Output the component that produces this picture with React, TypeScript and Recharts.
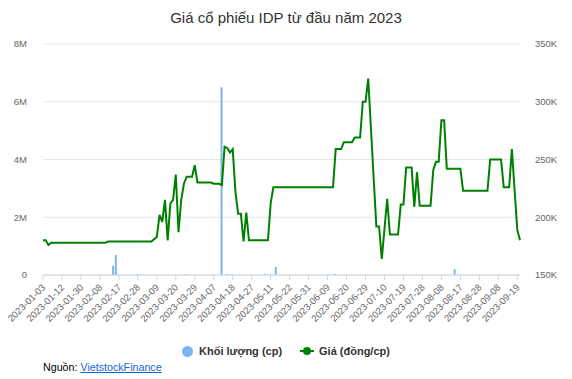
import React from "react";
import { Bar, CartesianGrid, ComposedChart, Line, XAxis, YAxis } from "recharts";

const FONT = '"Liberation Sans", Arial, Helvetica, sans-serif';

// one label every 7 trading days
const tickLabels = [
  "2023-01-03", "2023-01-12", "2023-01-30", "2023-02-08", "2023-02-17", "2023-02-28",
  "2023-03-09", "2023-03-20", "2023-03-29", "2023-04-07", "2023-04-18", "2023-04-27",
  "2023-05-11", "2023-05-22", "2023-05-31", "2023-06-09", "2023-06-20", "2023-06-29",
  "2023-07-10", "2023-07-19", "2023-07-28", "2023-08-08", "2023-08-17", "2023-08-28",
  "2023-09-08", "2023-09-19",
];
const TICK_STEP = 7;

// closing price per trading day, thousand đồng
const priceK = [
  180, 180, 176, 178, 178, 178, 178, 178, 178, 178,
  178, 178, 178, 178, 178, 178, 178, 178, 178, 178,
  178, 178, 178, 178, 179, 179, 179, 179, 179, 179,
  179, 179, 179, 179, 179, 179, 179, 179, 179, 179,
  179, 181, 183, 202, 196, 215, 180, 212, 215, 237,
  187, 215, 229, 235, 235, 235, 245, 230, 230, 230,
  230, 230, 230, 229, 229, 229, 228, 261, 260, 256,
  259, 222, 203, 203, 179, 204, 180, 180, 180, 180,
  180, 180, 180, 180, 212, 226, 226, 226, 226, 226,
  226, 226, 226, 226, 226, 226, 226, 226, 226, 226,
  226, 226, 226, 226, 226, 226, 226, 226, 259, 259,
  259, 265, 265, 265, 265, 269, 269, 269, 300, 300,
  320, 277, 234, 192, 192, 164, 190, 216, 185, 185,
  185, 185, 211, 211, 243, 243, 243, 209, 239, 210,
  210, 210, 210, 210, 241, 248, 248, 284, 284, 242,
  242, 242, 242, 242, 242, 223, 223, 223, 223, 223,
  223, 223, 223, 223, 223, 250, 250, 250, 250, 250,
  226, 226, 226, 259, 224, 189, 180,
];

// days with visible traded volume, millions of shares
const volumeDay = [26, 27, 35, 53, 66, 68, 82, 86, 108, 152];
const volumeM = [0.32, 0.69, 0.03, 0.03, 6.5, 0.03, 0.04, 0.28, 0.04, 0.2];

const volTicks = [0, 2, 4, 6, 8];
const priceTicks = [150, 200, 250, 300, 350];

const rows = priceK.map((p, i) => {
  const k = volumeDay.indexOf(i);
  return { i, price: p, volume: k >= 0 ? volumeM[k] : 0 };
});

const dateTicks = tickLabels.map((_, k) => k * TICK_STEP);

function DateTick({ x, y, payload }: any) {
  const label = tickLabels[Math.round(payload.value / TICK_STEP)] ?? "";
  const ax = x + 3;
  const ay = y + 6;
  return (
    <text
      x={ax}
      y={ay}
      transform={`rotate(-45, ${ax}, ${ay})`}
      textAnchor="end"
      fill="#666666"
      fontSize={9.5}
      fontFamily={FONT}
    >
      {label}
    </text>
  );
}

export default function App() {
  const last = priceK.length - 1;

  return (
    <div style={{ position: "absolute", left: 0, top: 0, width: 572, height: 379, background: "#fff", fontFamily: FONT }}>
      <div
        style={{
          position: "absolute",
          top: 8,
          left: 0,
          width: 572,
          textAlign: "center",
          fontSize: 15,
          lineHeight: "19px",
          color: "#333333",
        }}
      >
        Giá cổ phiếu IDP từ đầu năm 2023
      </div>

      <ComposedChart width={572} height={379} data={rows} margin={{ top: 44, right: 0, bottom: 44, left: 0 }}>
        <CartesianGrid yAxisId="vol" vertical={false} stroke="#e6e6e6" />
        <XAxis
          type="number"
          dataKey="i"
          domain={[0, last]}
          ticks={dateTicks}
          interval={0}
          height={60}
          tick={<DateTick />}
          tickSize={5}
          axisLine={{ stroke: "#ccd6eb" }}
          tickLine={{ stroke: "#ccd6eb" }}
        />
        <YAxis
          yAxisId="vol"
          orientation="left"
          width={43}
          domain={[0, 8]}
          ticks={volTicks}
          tickFormatter={(v) => (v === 0 ? "0" : `${v}M`)}
          axisLine={false}
          tickLine={false}
          tickSize={0}
          tickMargin={16}
          tick={{ fill: "#666666", fontSize: 9.5, fontFamily: FONT }}
        />
        <YAxis
          yAxisId="price"
          orientation="right"
          width={52}
          domain={[150, 350]}
          ticks={priceTicks}
          tickFormatter={(v) => `${v}K`}
          axisLine={false}
          tickLine={false}
          tickSize={0}
          tickMargin={15}
          tick={{ fill: "#666666", fontSize: 9.5, fontFamily: FONT, textAnchor: "start" }}
        />
        <Bar yAxisId="vol" dataKey="volume" fill="#7cb5ec" barSize={2} isAnimationActive={false} />
        <Line
          yAxisId="price"
          type="linear"
          dataKey="price"
          stroke="#008000"
          strokeWidth={2}
          dot={false}
          isAnimationActive={false}
        />
      </ComposedChart>

      <div
        style={{
          position: "absolute",
          top: 343,
          left: 0,
          width: 572,
          display: "flex",
          justifyContent: "center",
          alignItems: "center",
          fontSize: 11,
          fontWeight: "bold",
          color: "#333333",
          lineHeight: "16px",
        }}
      >
        <span style={{ display: "inline-block", width: 11, height: 11, borderRadius: "50%", background: "#7cb5ec", marginRight: 6 }} />
        <span>Khối lượng (cp)</span>
        <svg width={14} height={10} style={{ marginLeft: 18, marginRight: 5 }}>
          <line x1={0} y1={5} x2={14} y2={5} stroke="#008000" strokeWidth={2} />
          <circle cx={7} cy={5} r={4} fill="#008000" />
        </svg>
        <span>Giá (đồng/cp)</span>
      </div>

      <div style={{ position: "absolute", top: 360, left: 43, fontSize: 10.7, lineHeight: "15px", color: "#000" }}>
        Nguồn:{" "}
        <a href="#" style={{ color: "#1565d8", textDecoration: "underline" }}>
          VietstockFinance
        </a>
      </div>
    </div>
  );
}
